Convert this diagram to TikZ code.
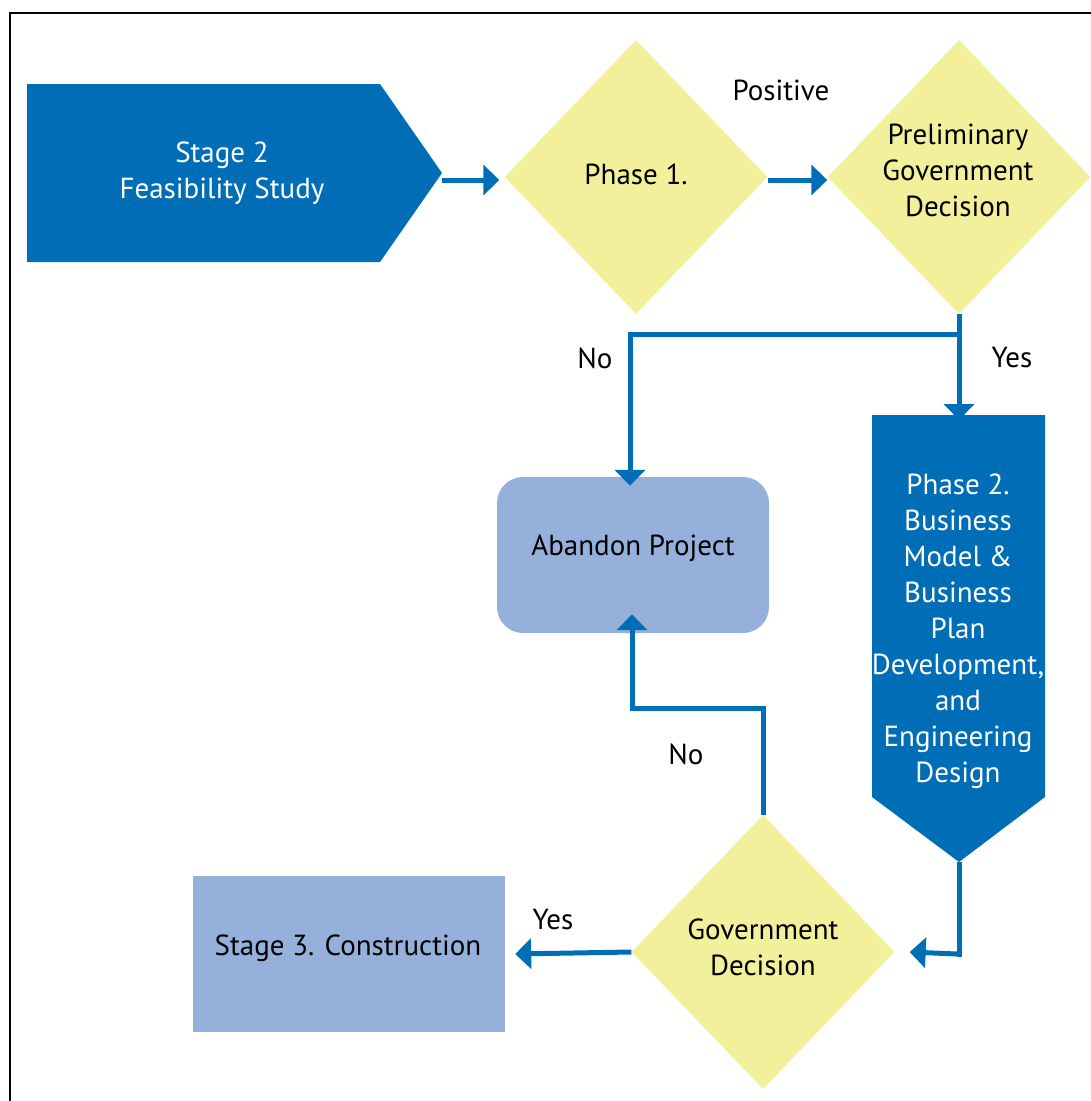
\documentclass[tikz,border=0pt]{standalone}
\usepackage{fontspec}
\setmainfont{PT Sans}
\usetikzlibrary{shapes.geometric,arrows.meta}
\definecolor{darkblue}{RGB}{0,110,182}
\definecolor{paleyellow}{RGB}{242,240,155}
\definecolor{lightblue}{RGB}{149,176,219}
\begin{document}
\begin{tikzpicture}[x=1pt,y=-1pt,
  every node/.style={font=\fontsize{29}{36}\selectfont},
  decision/.style={diamond,fill=paleyellow,inner sep=0pt,minimum width=263pt,minimum height=274pt},
  lightbox/.style={fill=lightblue,inner sep=0pt},
  darktext/.style={text=white,align=center,inner sep=0pt},
  lbl/.style={inner sep=0pt,align=center},
  arr/.style={draw=darkblue,line width=5pt,-{Triangle[width=30pt,length=16pt]}},
  link/.style={draw=darkblue,line width=5pt}]
\useasboundingbox (0,0) rectangle (1091,1101);
% outer frame
\draw[line width=2.5pt,black] (1095,13) -- (10,13) -- (10,1105);

% Stage 2 arrow-shaped block
\fill[darkblue] (27,84) -- (380,84) -- (442,173) -- (380,262) -- (27,262) -- cycle;
\coordinate (s2tip) at (442,180);
\node[darktext] (s2) at (222,173) {Stage 2\\Feasibility Study};

% decisions
\node[decision] (p1) at (636,177) {};
\node[lbl] (p1t) at (636,174) {Phase 1.};
\node[decision] (pg) at (959,177) {};
\node[lbl] (pgt) at (958,170) {Preliminary\\Government\\Decision};
\node[decision] (gd) at (763,952) {};
\node[lbl] (gdt) at (763,947) {Government\\Decision};

% Phase 2 downward block
\fill[darkblue] (872,415) -- (1045,415) -- (1045,797) -- (959,862) -- (872,797) -- cycle;
\coordinate (p2top) at (959,415);
\coordinate (p2tip) at (959,862);
\node[darktext] (p2) at (958,631) {Phase 2.\\Business\\Model \&\\Business\\Plan\\Development,\\and\\Engineering\\Design};

% outcome boxes
\node[lightbox,rounded corners=26pt,minimum width=272pt,minimum height=156pt] (ab) at (633,555) {};
\node[lbl] (abt) at (633,548) {Abandon Project};
\node[lightbox,minimum width=312pt,minimum height=156pt] (s3) at (349,954) {};
\node[lbl] (s3t) at (348,948) {Stage 3. Construction};

% connectors
\draw[arr] (s2tip) -- ([xshift=-5pt]p1.west |- s2tip);
\draw[arr] (p1.east |- s2tip) -- (pg.west |- s2tip);
\draw[arr] (pg.south) -- ([yshift=-5pt]p2top);
\coordinate (split) at (959,334);
\draw[arr] (split) -- (630,334) -- ([yshift=-9pt]ab.north -| 630,0);
\draw[link] (p2tip) -- (959,954) -- ++(-2,0);
\draw[arr] (957,954) -- ([xshift=15pt]gd.east);
\draw[arr] (gd.north) -- (763,708) -- (632,708) -- ([yshift=19pt]ab.south -| 632,0);
\draw[arr] (gd.west) -- ([xshift=10pt]s3.east);

% labels
\node[lbl] at (781,90) {Positive};
\node[lbl] at (595,358) {No};
\node[lbl] at (1012,358) {Yes};
\node[lbl] at (686,754) {No};
\node[lbl] at (553,920) {Yes};
\end{tikzpicture}
\end{document}
